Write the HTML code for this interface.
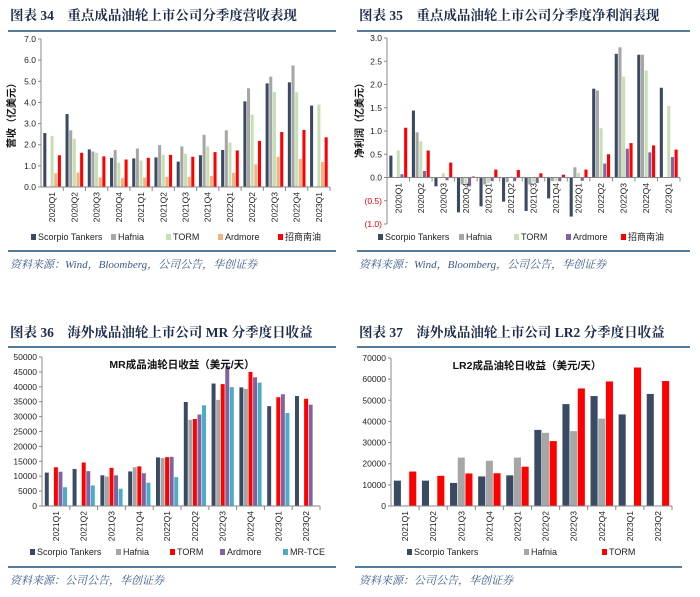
<!DOCTYPE html>
<html><head><meta charset="utf-8">
<style>
html,body{margin:0;padding:0;background:#fff;}
svg{display:block;font-family:"Liberation Sans","Noto Sans CJK SC",sans-serif;}
.hd{font-family:"Liberation Serif","Noto Serif CJK SC",serif;font-weight:bold;font-size:13.5px;fill:#1c2b4a;}
.src{font-family:"Liberation Serif","Noto Serif CJK SC",serif;font-style:italic;font-size:11px;fill:#3a5a8c;}
.tk{font-size:8.5px;fill:#222;}
.lg{font-size:9px;fill:#222;}
</style></head>
<body>
<svg id="root" width="700" height="597" viewBox="0 0 700 597">
<text class="hd" x="10" y="20">图表 34　重点成品油轮上市公司分季度营收表现</text>
<text class="hd" x="359" y="20">图表 35　重点成品油轮上市公司分季度净利润表现</text>
<line x1="8" y1="31" x2="336" y2="31" stroke="#1f4e79" stroke-width="1.5"/>
<line x1="357" y1="31" x2="690" y2="31" stroke="#1f4e79" stroke-width="1.5"/>
<line x1="8" y1="251" x2="336" y2="251" stroke="#1f4e79" stroke-width="1.5"/>
<line x1="357" y1="251" x2="690" y2="251" stroke="#1f4e79" stroke-width="1.5"/>
<text class="src" x="10" y="268">资料来源：Wind，Bloomberg，公司公告，华创证券</text>
<text class="src" x="359" y="268">资料来源：Wind，Bloomberg，公司公告，华创证券</text>
<text class="hd" x="10" y="337">图表 36　海外成品油轮上市公司 MR 分季度日收益</text>
<text class="hd" x="359" y="337">图表 37　海外成品油轮上市公司 LR2 分季度日收益</text>
<line x1="8" y1="347" x2="336" y2="347" stroke="#1f4e79" stroke-width="1.5"/>
<line x1="357" y1="347" x2="690" y2="347" stroke="#1f4e79" stroke-width="1.5"/>
<line x1="8" y1="567" x2="336" y2="567" stroke="#1f4e79" stroke-width="1.5"/>
<line x1="355" y1="567" x2="682" y2="567" stroke="#1f4e79" stroke-width="1.5"/>
<text class="src" x="10" y="584">资料来源：公司公告，华创证券</text>
<text class="src" x="359" y="584">资料来源：公司公告，华创证券</text>
</svg>
<script>
// ---- Chart 34: revenue (亿美元) ----
const c1Cats = ['2020Q1','2020Q2','2020Q3','2020Q4','2021Q1','2021Q2','2021Q3','2021Q4','2022Q1','2022Q2','2022Q3','2022Q4','2023Q1'];
const c1Names = ['Scorpio Tankers','Hafnia','TORM','Ardmore','招商南油'];
const c1Scorpio = [2.55,3.45,1.78,1.38,1.35,1.4,1.2,1.5,1.75,4.05,4.9,4.95,3.85];
const c1Hafnia = [null,2.68,1.68,1.75,1.82,1.98,1.92,2.47,2.68,4.67,5.22,5.75,null];
const c1Torm = [2.42,2.28,1.62,1.15,1.25,1.52,1.57,1.92,2.1,3.42,4.5,4.48,3.9];
const c1Ardmore = [0.65,0.68,0.45,0.42,0.45,0.48,0.48,0.52,0.67,1.07,1.43,1.33,1.18];
const c1Cmes = [1.5,1.62,1.45,1.3,1.38,1.52,1.43,1.65,1.73,2.18,2.6,2.7,2.35];
const c1Ticks = [0,1,2,3,4,5,6,7];
// ---- Chart 35: net profit (亿美元) ----
const c2Cats = c1Cats;
const c2Names = ['Scorpio Tankers','Hafnia','TORM','Ardmore','招商南油'];
const c2Scorpio = [0.47,1.44,-0.19,-0.75,-0.62,-0.52,-0.72,-0.45,-0.84,1.91,2.66,2.64,1.93];
const c2Hafnia = [null,0.97,null,-0.15,-0.15,-0.1,-0.15,-0.08,0.22,1.87,2.8,2.64,null];
const c2Torm = [0.58,0.78,0.09,-0.15,-0.12,0.02,-0.1,-0.08,0.1,1.06,2.17,2.3,1.54];
const c2Ardmore = [0.07,0.14,-0.06,-0.19,-0.08,-0.08,-0.12,-0.08,-0.07,0.3,0.62,0.54,0.44];
const c2Cmes = [1.07,0.58,0.32,0.02,0.17,0.16,0.09,0.06,0.17,0.5,0.74,0.69,0.6];
const c2Ticks = [-1,-0.5,0,0.5,1,1.5,2,2.5,3];
// ---- Chart 36: MR daily earnings ----
const c3Cats = ['2021Q1','2021Q2','2021Q3','2021Q4','2022Q1','2022Q2','2022Q3','2022Q4','2023Q1','2023Q2'];
const c3Names = ['Scorpio Tankers','Hafnia','TORM','Ardmore','MR-TCE'];
const c3Scorpio = [11200,12400,10300,11600,16300,34900,41100,39800,33500,36900];
const c3Hafnia = [null,null,9900,13000,16100,28900,35600,39300,null,null];
const c3Torm = [13000,14600,12800,13300,16400,29200,40900,45000,36500,36000];
const c3Ardmore = [11500,11700,10300,11000,16500,30700,47000,43200,37500,34000];
const c3Tce = [6300,6900,5800,7800,9700,33800,39900,41400,31200,null];
const c3Ticks = [0,5000,10000,15000,20000,25000,30000,35000,40000,45000,50000];
// ---- Chart 37: LR2 daily earnings ----
const c4Cats = c3Cats;
const c4Names = ['Scorpio Tankers','Hafnia','TORM'];
const c4Scorpio = [12000,12000,10900,14000,14500,36000,48200,52000,43300,53000];
const c4Hafnia = [null,null,22900,21400,22900,34600,35400,41300,null,null];
const c4Torm = [16300,14300,15400,15500,18600,30700,55600,58900,65500,59100];
const c4Ticks = [0,10000,20000,30000,40000,50000,60000,70000];

const NS='http://www.w3.org/2000/svg';
const root=document.getElementById('root');
function mk(tag,attrs,parent){const e=document.createElementNS(NS,tag);for(const k in attrs)e.setAttribute(k,attrs[k]);(parent||root).appendChild(e);return e;}

function drawChart(cfg){
  const g=mk('g',{});
  
  
  const {x0,x1,yTop,yBot,vMin,vMax}=cfg;
  const yS=v=>yBot-(v-vMin)/(vMax-vMin)*(yBot-yTop);
  const y0=yS(0);
  const n=cfg.cats.length, cw=(x1-x0)/n, ns=cfg.series.length;
  const bw=cw*0.82/ns, off=cw*0.09;
  // y-axis
  const ya=mk('line',{x1:x0,y1:yTop,x2:x0,y2:yBot,stroke:'#888','stroke-width':1},g);
  
  
  cfg.ticks.forEach(t=>{
    const y=yS(t);
    mk('line',{x1:x0-3,y1:y,x2:x0,y2:y,stroke:'#888'},g);
    const tx=mk('text',{x:x0-5,y:y+3,'text-anchor':'end',class:'tk',fill:t<0?'#e00':'#222'},g);
    tx.textContent=cfg.fmt(t);
    if(t<0)tx.style.fill='#e00';
    
    
  });
  // bars
  cfg.series.forEach((s,si)=>{
    s.vals.forEach((v,i)=>{
      if(v===null)return;
      const x=x0+i*cw+off+si*bw;
      const y=Math.min(yS(v),y0), h=Math.abs(yS(v)-y0);
      const r=mk('rect',{x:x+0.3,y:y,width:Math.max(bw-0.6,1),height:h,fill:s.color},g);
      
      
    });
  });
  // x-axis
  const xa=mk('line',{x1:x0,y1:y0,x2:x1,y2:y0,stroke:'#888','stroke-width':1},g);
  
  
  cfg.cats.forEach((c,i)=>{
    const xe=x0+(i+1)*cw;
    mk('line',{x1:xe,y1:y0,x2:xe,y2:y0+4,stroke:'#888'},g);
    const cx=x0+(i+0.5)*cw+3;
    const ly=cfg.labelY;
    const tx=mk('text',{x:cx,y:ly,'text-anchor':'end',class:'tk',transform:`rotate(-90 ${cx} ${ly})`},g);
    tx.textContent=c;
    
    
  });
  // y title
  if(cfg.ytitle){
    const t=mk('text',{x:cfg.ytx,y:cfg.yty,'text-anchor':'middle',transform:`rotate(-90 ${cfg.ytx} ${cfg.yty})`,style:'font-size:10px;font-weight:bold;fill:#111'},g);
    t.textContent=cfg.ytitle;
    
    
  }
  if(cfg.title){
    const t=mk('text',{x:cfg.tx,y:cfg.ty,'text-anchor':'middle',style:'font-size:10.5px;font-weight:bold;fill:#111'},g);
    t.textContent=cfg.title;
    
    
  }
  // legend
  cfg.series.forEach((s,si)=>{
    const lx=cfg.legX[si], ly=cfg.legY;
    const m=mk('rect',{x:lx,y:ly-6,width:5,height:6,fill:s.color},g);
    
    
    const t=mk('text',{x:lx+7,y:ly,class:'lg'},g);
    t.textContent=s.name;
    
    
  });
}
const COL={sc:'#3b4a63',ha:'#a6a6a6',to:'#c6e0b4',ar:'#f4b183',cm:'#ff0000',pu:'#8064a2',tce:'#4bacc6'};
drawChart({id:'revenue',x0:41,x1:330,yTop:39,yBot:187,vMin:0,vMax:7,ticks:c1Ticks,fmt:t=>t.toFixed(1),cats:c1Cats,labelY:192,
  series:[{name:c1Names[0],vals:c1Scorpio,color:COL.sc},{name:c1Names[1],vals:c1Hafnia,color:COL.ha},{name:c1Names[2],vals:c1Torm,color:COL.to},{name:c1Names[3],vals:c1Ardmore,color:COL.ar},{name:c1Names[4],vals:c1Cmes,color:COL.cm}],
  ytitle:'营收（亿美元）',ytx:15,yty:113,legX:[31,111,166,218,278],legY:240});
drawChart({id:'net-profit',x0:387,x1:680,yTop:38,yBot:224,vMin:-1,vMax:3,ticks:c2Ticks,fmt:t=>t<0?'('+(-t).toFixed(1)+')':t.toFixed(1),cats:c2Cats,labelY:183,
  series:[{name:c2Names[0],vals:c2Scorpio,color:COL.sc},{name:c2Names[1],vals:c2Hafnia,color:COL.ha},{name:c2Names[2],vals:c2Torm,color:COL.to},{name:c2Names[3],vals:c2Ardmore,color:COL.pu},{name:c2Names[4],vals:c2Cmes,color:COL.cm}],
  ytitle:'净利润（亿美元）',ytx:363,yty:118,legX:[378,459,514,566,621],legY:240});
drawChart({id:'mr-earnings',x0:42,x1:320,yTop:357,yBot:506,vMin:0,vMax:50000,ticks:c3Ticks,fmt:t=>String(t),cats:c3Cats,labelY:511,
  series:[{name:c3Names[0],vals:c3Scorpio,color:COL.sc},{name:c3Names[1],vals:c3Hafnia,color:COL.ha},{name:c3Names[2],vals:c3Torm,color:COL.cm},{name:c3Names[3],vals:c3Ardmore,color:COL.pu},{name:c3Names[4],vals:c3Tce,color:COL.tce}],
  title:'MR成品油轮日收益（美元/天）',tx:182,ty:368,legX:[30,116,170,220,283],legY:555});
drawChart({id:'lr2-earnings',x0:391,x1:672,yTop:358,yBot:506,vMin:0,vMax:70000,ticks:c4Ticks,fmt:t=>String(t),cats:c4Cats,labelY:511,
  series:[{name:c4Names[0],vals:c4Scorpio,color:COL.sc},{name:c4Names[1],vals:c4Hafnia,color:COL.ha},{name:c4Names[2],vals:c4Torm,color:COL.cm}],
  title:'LR2成品油轮日收益（美元/天）',tx:527,ty:369,legX:[407,524,602],legY:555});
</script>
</body></html>
